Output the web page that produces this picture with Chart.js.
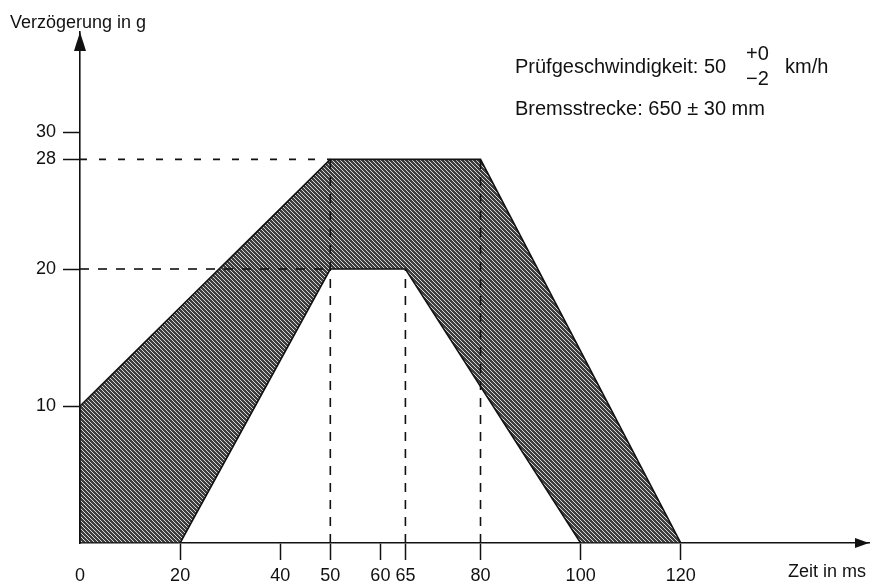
<!DOCTYPE html>
<html>
<head>
<meta charset="utf-8">
<script src="https://cdn.jsdelivr.net/npm/chart.js@4/dist/chart.umd.min.js"></script>
<style>
  html, body { margin: 0; padding: 0; background: #ffffff; }
  #wrap { width: 870px; height: 583px; position: relative; }
</style>
</head>
<body>
<div id="wrap"><canvas id="c"></canvas></div>
<script>
// ---- data ----
const xTickValues = [0, 20, 40, 50, 60, 65, 80, 100, 120];   // Zeit in ms
const yTickValues = [10, 20, 28, 30];                         // Verzögerung in g

// upper (outer) boundary of the corridor
const outerX = [0, 0, 50, 80, 120];
const outerY = [0, 10, 28, 28, 0];
// lower (inner) boundary of the corridor
const innerX = [20, 50, 65, 100];
const innerY = [0, 20, 20, 0];

// dashed guide lines
const guide28X = [0, 50];  const guide28Y = [28, 28];
const guide20X = [0, 50];  const guide20Y = [20, 20];
const guide50X = [50, 50]; const guide50Y = [0, 28];
const guide65X = [65, 65]; const guide65Y = [0, 20];
const guide80X = [80, 80]; const guide80Y = [0, 28];

const xMax = 157.6;
const yMax = 37.3;

// ---- helpers ----
const toPts = (xs, ys) => xs.map((x, i) => ({ x: x, y: ys[i] }));
const bandPoints = toPts(outerX, outerY)
  .concat(toPts(innerX, innerY).reverse())
  .concat([{ x: outerX[0], y: outerY[0] }]);

function makeHatch() {
  const t = document.createElement('canvas');
  t.width = 4; t.height = 4;
  const g = t.getContext('2d');
  const img = g.createImageData(4, 4);
  for (let y = 0; y < 4; y++) {
    for (let x = 0; x < 4; x++) {
      const light = ((x - y) % 4 + 4) % 4 === 0;
      const v = light ? 215 : 62;
      const k = (y * 4 + x) * 4;
      img.data[k] = v; img.data[k + 1] = v; img.data[k + 2] = v; img.data[k + 3] = 255;
    }
  }
  g.putImageData(img, 0, 0);
  return document.getElementById('c').getContext('2d').createPattern(t, 'repeat');
}

function guide(xs, ys, dash) {
  return {
    data: toPts(xs, ys),
    showLine: true,
    borderColor: '#111',
    borderWidth: 1.6,
    borderDash: dash,
    pointRadius: 0,
    fill: false,
    tension: 0,
    order: 0
  };
}

const FONT = "'Liberation Sans', Arial, sans-serif";

const decor = {
  id: 'decor',
  afterDraw(chart) {
    const ctx = chart.ctx;
    const a = chart.chartArea;
    ctx.save();
    ctx.fillStyle = '#111';
    // arrow on y axis
    ctx.beginPath();
    ctx.moveTo(a.left, a.top);
    ctx.lineTo(a.left - 6, a.top + 19);
    ctx.lineTo(a.left + 6, a.top + 19);
    ctx.closePath();
    ctx.fill();
    // arrow on x axis
    ctx.beginPath();
    ctx.moveTo(a.right, a.bottom);
    ctx.lineTo(a.right - 14, a.bottom - 5);
    ctx.lineTo(a.right - 14, a.bottom + 5);
    ctx.closePath();
    ctx.fill();

    ctx.textBaseline = 'alphabetic';
    ctx.textAlign = 'left';
    ctx.font = '18px ' + FONT;
    ctx.fillText('Verzögerung in g', 10, 28);
    ctx.textAlign = 'right';
    ctx.fillText('Zeit in ms', 866, 577);

    ctx.textAlign = 'left';
    ctx.font = '20px ' + FONT;
    ctx.fillText('Prüfgeschwindigkeit: 50', 515, 73);
    ctx.fillText('+0', 746, 60);
    ctx.fillText('\u22122', 746, 85);
    ctx.fillText('km/h', 785, 73);
    ctx.fillText('Bremsstrecke: 650 ± 30 mm', 515, 115);
    ctx.restore();
  }
};

new Chart(document.getElementById('c'), {
  type: 'scatter',
  data: {
    datasets: [
      {
        data: bandPoints,
        showLine: true,
        fill: 'shape',
        backgroundColor: makeHatch(),
        borderColor: '#111',
        borderWidth: 1.6,
        pointRadius: 0,
        tension: 0,
        order: 10
      },
      guide(guide28X, guide28Y, [7, 12]),
      guide(guide20X, guide20Y, [9, 9]),
      guide(guide50X, guide50Y, [9, 8]),
      guide(guide65X, guide65Y, [9, 8]),
      guide(guide80X, guide80Y, [9, 8])
    ]
  },
  options: {
    responsive: true,
    maintainAspectRatio: false,
    animation: false,
    events: [],
    layout: { padding: { top: 32, right: 1, left: 0, bottom: 0 } },
    plugins: { legend: { display: false }, tooltip: { enabled: false }, title: { display: false } },
    scales: {
      x: {
        type: 'linear',
        min: 0,
        max: xMax,
        afterBuildTicks: s => { s.ticks = xTickValues.map(v => ({ value: v })); },
        afterFit: s => { s.height = 40; },
        ticks: {
          autoSkip: false,
          maxRotation: 0,
          padding: 5,
          color: '#111',
          font: { family: FONT, size: 18 }
        },
        grid: {
          drawOnChartArea: false,
          drawTicks: true,
          tickLength: 17,
          tickWidth: 1.5,
          tickColor: c => (c.tick && c.tick.value === 0) ? 'rgba(0,0,0,0)' : '#111'
        },
        border: { display: true, color: '#111', width: 1.6 }
      },
      y: {
        type: 'linear',
        min: 0,
        max: yMax,
        afterBuildTicks: s => { s.ticks = yTickValues.map(v => ({ value: v })); },
        afterFit: s => { s.width = 80; },
        ticks: {
          padding: 7,
          color: '#111',
          font: { family: FONT, size: 18 }
        },
        grid: {
          drawOnChartArea: false,
          drawTicks: true,
          tickLength: 17,
          tickWidth: 1.5,
          tickColor: '#111'
        },
        border: { display: true, color: '#111', width: 1.6 }
      }
    }
  },
  plugins: [decor]
});
</script>
</body>
</html>
